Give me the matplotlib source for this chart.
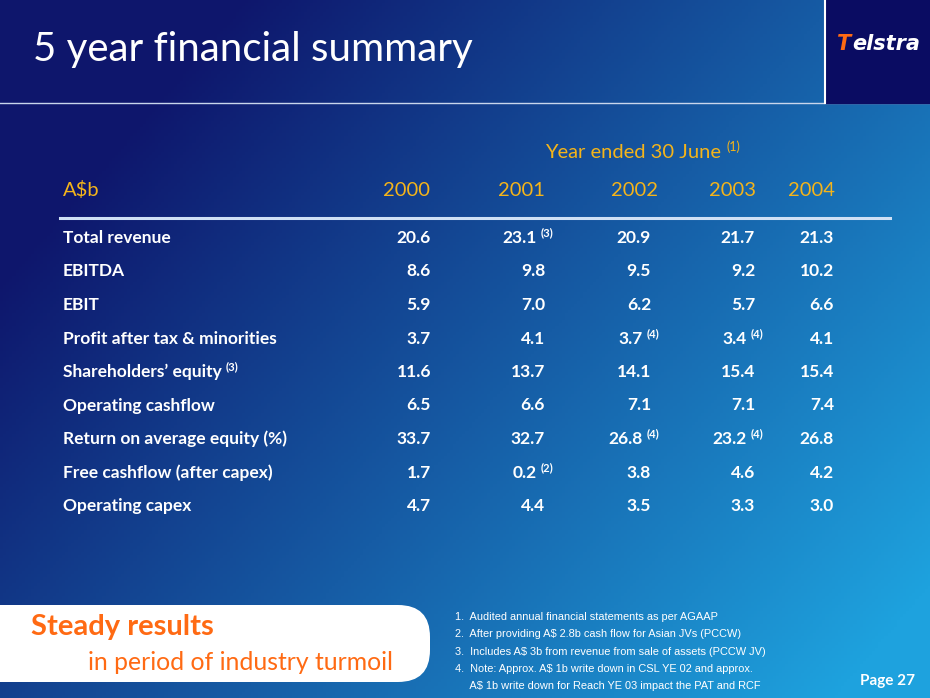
import numpy as np
import matplotlib.pyplot as plt
from matplotlib.patches import Rectangle, FancyBboxPatch

# table data
years = ["2000", "2001", "2002", "2003", "2004"]
row_labels = ["Total revenue", "EBITDA", "EBIT", "Profit after tax & minorities",
              "Shareholders\u2019 equity", "Operating cashflow",
              "Return on average equity (%)", "Free cashflow (after capex)",
              "Operating capex"]
label_notes = ["", "", "", "", "(3)", "", "", "", ""]
v2000 = ["20.6", "8.6", "5.9", "3.7", "11.6", "6.5", "33.7", "1.7", "4.7"]
v2001 = ["23.1", "9.8", "7.0", "4.1", "13.7", "6.6", "32.7", "0.2", "4.4"]
v2002 = ["20.9", "9.5", "6.2", "3.7", "14.1", "7.1", "26.8", "3.8", "3.5"]
v2003 = ["21.7", "9.2", "5.7", "3.4", "15.4", "7.1", "23.2", "4.6", "3.3"]
v2004 = ["21.3", "10.2", "6.6", "4.1", "15.4", "7.4", "26.8", "4.2", "3.0"]
notes2001 = ["(3)", "", "", "", "", "", "", "(2)", ""]
notes2002 = ["", "", "", "(4)", "", "", "(4)", "", ""]
notes2003 = ["", "", "", "(4)", "", "", "(4)", "", ""]
footnotes = ["1.  Audited annual financial statements as per AGAAP",
             "2.  After providing A$ 2.8b cash flow for Asian JVs (PCCW)",
             "3.  Includes A$ 3b from revenue from sale of assets (PCCW JV)",
             "4.  Note: Approx. A$ 1b write down in CSL YE 02 and approx.",
             "     A$ 1b write down for Reach YE 03 impact the PAT and RCF"]

W, H = 930, 698
fig = plt.figure(figsize=(9.3, 6.98), dpi=100)
ax = fig.add_axes([0, 0, 1, 1])
ax.set_xlim(0, W)
ax.set_ylim(H, 0)
ax.axis("off")
renderer = fig.canvas.get_renderer()


def right_edge(txt):
    # right end of a text, in data (pixel) units
    bb = txt.get_window_extent(renderer=renderer)
    return ax.transData.inverted().transform((bb.x1, bb.y0))[0]


# background gradient
xx, yy = np.meshgrid(np.linspace(0, 1, 300), np.linspace(0, 1, 225))
t = np.clip(0.78 * xx + 0.5 * yy - 0.2, 0, 1)[..., None]
dark = np.array([14, 22, 108]) / 255
light = np.array([30, 162, 222]) / 255
ax.imshow(dark + (light - dark) * t, extent=[0, W, H, 0], aspect="auto", zorder=0)

# title bar
ax.plot([0, W], [103, 103], color="#c9d6ec", lw=1.0, zorder=2)
ax.add_patch(Rectangle((825, 0), 105, 103, color="#0a0c62", zorder=2))
ax.plot([825, 825], [0, 103], color="white", lw=1.5, zorder=3)
ax.text(33, 50, "5 year financial summary", color="white", fontsize=29,
        family="Lato", va="center", ha="left", zorder=4)
logo_t = ax.text(837, 44, "T", color="#ff6a13", fontsize=15, family="DejaVu Sans",
                 weight="bold", style="italic", va="center", ha="left", zorder=4)
ax.text(right_edge(logo_t) + 0.5, 44, "elstra", color="white", fontsize=15,
        family="DejaVu Sans", weight="bold", style="italic", va="center",
        ha="left", zorder=4)

# header
gold = "#f4b41a"
hdr = ax.text(545, 153, "Year ended 30 June", color=gold, fontsize=14.5,
              family="Lato", va="center", ha="left")
ax.text(right_edge(hdr) + 5, 147, "(1)", color=gold, fontsize=9, family="Lato",
        va="center")
ax.text(63, 190, "A$b", color=gold, fontsize=14.5, family="Lato", va="center")
year_x = [406, 521, 634, 732, 811]
for yx, yr in zip(year_x, years):
    ax.text(yx, 190, yr, color=gold, fontsize=14.5, family="Lato",
            va="center", ha="center")
ax.plot([60, 890], [218, 218], color="#cfe0f5", lw=2.2)

# rows
row_y = 238 + 33.5 * np.arange(len(row_labels))
cols = [(431, v2000, None), (545, v2001, notes2001), (651, v2002, notes2002),
        (755, v2003, notes2003), (834, v2004, None)]
for i, y in enumerate(row_y):
    lab = ax.text(63, y, row_labels[i], color="white", fontsize=12.5,
                  family="Lato", weight="bold", va="center", ha="left")
    if label_notes[i]:
        ax.text(right_edge(lab) + 4, y - 5, label_notes[i], color="white",
                fontsize=8, family="Lato", weight="bold", va="center", ha="left")
    for cx, vals, notes in cols:
        shift = 8 if (notes and notes[i]) else 0
        ax.text(cx - shift, y, vals[i], color="white", fontsize=12.5,
                family="Lato", weight="bold", va="center", ha="right")
        if notes and notes[i]:
            ax.text(cx - shift + 4, y - 5, notes[i], color="white", fontsize=8,
                    family="Lato", weight="bold", va="center", ha="left")

# bottom-left callout
ax.add_patch(FancyBboxPatch((-40, 605), 470, 77,
                            boxstyle="round,pad=0,rounding_size=32",
                            fc="white", ec="none", zorder=2))
ax.text(31, 627, "Steady results", color="#ff6a13", fontsize=21, family="Lato",
        weight="bold", va="center", ha="left", zorder=3)
ax.text(88, 663, "in period of industry turmoil", color="#ff6a13", fontsize=17.8,
        family="Lato", va="center", ha="left", zorder=3)

# footnotes
for k, fn in enumerate(footnotes):
    ax.text(455, 617 + 17.3 * k, fn, color="white", fontsize=7.9,
            family="Liberation Sans", va="center", ha="left")
ax.text(915, 681, "Page 27", color="white", fontsize=11, family="Lato",
        weight="bold", va="center", ha="right")

fig.savefig("out.png", dpi=100)
